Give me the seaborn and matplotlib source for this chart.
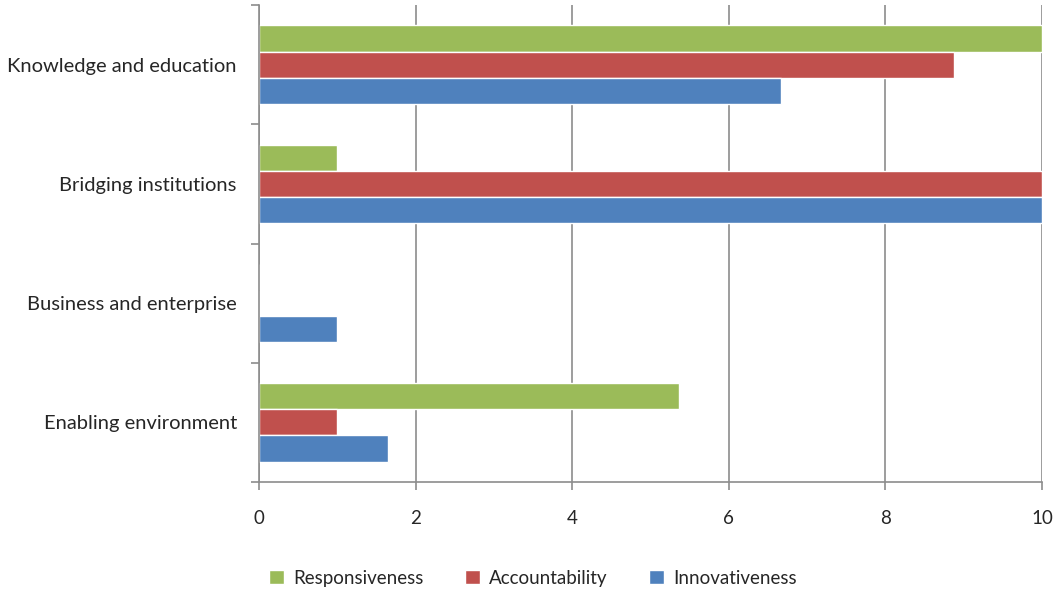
import pandas as pd
import matplotlib.pyplot as plt
import seaborn as sns

categories = ['Knowledge and education', 'Bridging institutions',
              'Business and enterprise', 'Enabling environment']
series = ['Responsiveness', 'Accountability', 'Innovativeness']
responsiveness = [10, 1.0, 0, 5.36]
accountability = [8.87, 10, 0, 1.0]
innovativeness = [6.67, 10, 1.0, 1.65]
colors = ['#9BBB59', '#C0504D', '#4F81BD']

rows = []
for name, vals in zip(series, [responsiveness, accountability, innovativeness]):
    for c, v in zip(categories, vals):
        rows.append({'category': c, 'series': name, 'value': v})
df = pd.DataFrame(rows)

sns.set_style('white')
plt.rcParams['font.family'] = ['Lato', 'DejaVu Sans']

fig = plt.figure(figsize=(10.56, 5.89), dpi=100)
ax = fig.add_axes([259 / 1056, 1 - 482 / 589, (1042 - 259) / 1056, (482 - 5) / 589])
sns.barplot(data=df, x='value', y='category', hue='series', order=categories,
            hue_order=series, palette=colors, width=0.66, orient='h',
            saturation=1, ax=ax, legend=True)

ax.set_xlim(0, 10)
ax.set_ylim(3.5, -0.5)
ax.set_xticks(range(0, 11, 2))
ax.grid(axis='x', color='#8c8c8c', linewidth=1.2)
ax.grid(axis='y', visible=False)
ax.set_axisbelow(True)
ax.set_xlabel('')
ax.set_ylabel('')
for s in ['top', 'right']:
    ax.spines[s].set_visible(False)
for s in ['left', 'bottom']:
    ax.spines[s].set_color('#8c8c8c')
    ax.spines[s].set_linewidth(1.2)

# tick marks at category boundaries on the left, labels centered
ax.set_yticks([-0.5, 0.5, 1.5, 2.5, 3.5], minor=True)
ax.tick_params(axis='y', which='minor', length=6, color='#8c8c8c', width=1.2, left=True)
ax.tick_params(axis='y', which='major', length=0, pad=16, labelsize=14.5)
ax.tick_params(axis='x', which='major', length=6, color='#8c8c8c', width=1.2,
               bottom=True, pad=14, labelsize=13.5)

ax.legend(loc='lower center', bbox_to_anchor=(0.35, -0.255), ncol=3, frameon=False,
          fontsize=13.5, handlelength=0.8, handleheight=0.8, columnspacing=2.2,
          handletextpad=0.5)

fig.savefig('out.png', dpi=100)
